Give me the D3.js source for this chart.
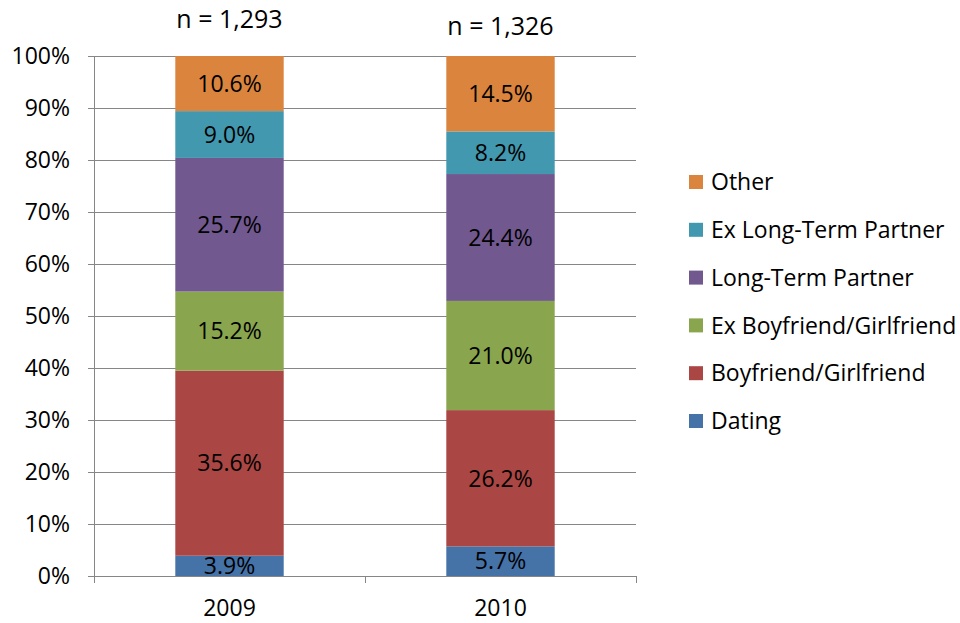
<!DOCTYPE html>
<html>
<head>
<meta charset="utf-8">
<script src="https://cdn.jsdelivr.net/npm/d3@7"></script>
<style>
  body { margin: 0; background: #fff; }
  svg text { font-family: "Open Sans", Lato, sans-serif; fill: #000; }
</style>
</head>
<body>
<div id="chart"></div>
<script>
// categories and series (percent of each year's total)
const years = ["2009", "2010"];
const sampleSizes = ["n = 1,293", "n = 1,326"];
const seriesNames = ["Dating", "Boyfriend/Girlfriend", "Ex Boyfriend/Girlfriend",
    "Long-Term Partner", "Ex Long-Term Partner", "Other"];
const dating = [3.9, 5.7];
const boyfriendGirlfriend = [35.6, 26.2];
const exBoyfriendGirlfriend = [15.2, 21.0];
const longTermPartner = [25.7, 24.4];
const exLongTermPartner = [9.0, 8.2];
const other = [10.6, 14.5];
const yTicks = [0, 10, 20, 30, 40, 50, 60, 70, 80, 90, 100];

const seriesValues = [dating, boyfriendGirlfriend, exBoyfriendGirlfriend,
    longTermPartner, exLongTermPartner, other];
const colors = ["#4572A7", "#AA4643", "#89A54E", "#71588F", "#4198AF", "#DB843D"];

// table for d3.stack
const table = years.map((y, i) => {
    let row = {year: y};
    seriesNames.forEach((s, j) => row[s] = seriesValues[j][i]);
    return row;
});

const margin = {top: 56, right: 324, bottom: 47, left: 94};
const width = 960 - margin.left - margin.right;
const height = 623 - margin.top - margin.bottom;
const fontSize = "23px";

const svg = d3.select("#chart").append("svg")
    .attr("width", 960)
    .attr("height", 623)
    .append("g")
    .attr("transform", "translate(" + margin.left + "," + margin.top + ")");

const x = d3.scaleBand()
    .domain(years)
    .range([0, width])
    .paddingInner(0.6)
    .paddingOuter(0.3);

const y = d3.scaleLinear()
    .domain([0, 100])
    .range([height, 0]);

const color = d3.scaleOrdinal().domain(seriesNames).range(colors);

// gridlines
svg.append("g")
    .selectAll("line")
    .data(yTicks)
    .enter()
    .append("line")
    .attr("x1", -6)
    .attr("x2", width)
    .attr("y1", d => Math.round(y(d)) + 0.5)
    .attr("y2", d => Math.round(y(d)) + 0.5)
    .attr("stroke", "#868686")
    .attr("stroke-width", 1);

// y axis labels
svg.append("g")
    .selectAll("text")
    .data(yTicks)
    .enter()
    .append("text")
    .attr("x", -24)
    .attr("y", d => y(d))
    .attr("dy", "0.36em")
    .attr("text-anchor", "end")
    .style("font-size", fontSize)
    .text(d => d + "%");

// y axis line
svg.append("line")
    .attr("x1", 0.5).attr("x2", 0.5)
    .attr("y1", 0).attr("y2", height)
    .attr("stroke", "#868686");

// stacked bars
const stacked = d3.stack().keys(seriesNames)(table);

const layers = svg.append("g")
    .selectAll("g")
    .data(stacked)
    .enter()
    .append("g")
    .attr("fill", d => color(d.key));

layers.selectAll("rect")
    .data(d => d)
    .enter()
    .append("rect")
    .attr("x", d => x(d.data.year))
    .attr("y", d => y(d[1]))
    .attr("width", x.bandwidth())
    .attr("height", d => y(d[0]) - y(d[1]));

// value labels
layers.selectAll("text")
    .data(d => d.map(v => Object.assign({}, v, {key: d.key})))
    .enter()
    .append("text")
    .attr("x", d => x(d.data.year) + x.bandwidth() / 2)
    .attr("y", d => (y(d[0]) + y(d[1])) / 2)
    .attr("dy", "0.36em")
    .attr("text-anchor", "middle")
    .style("font-size", fontSize)
    .text(d => d.data[d.key].toFixed(1) + "%");

// x axis
const xAxis = svg.append("g")
    .attr("transform", "translate(0," + height + ")");
xAxis.append("line")
    .attr("x1", 0).attr("x2", width)
    .attr("y1", 0.5).attr("y2", 0.5)
    .attr("stroke", "#868686");
xAxis.selectAll(".tick")
    .data([0, width / 2, width])
    .enter()
    .append("line")
    .attr("x1", d => Math.round(d) + 0.5)
    .attr("x2", d => Math.round(d) + 0.5)
    .attr("y1", 0).attr("y2", 7)
    .attr("stroke", "#868686");
xAxis.selectAll("text")
    .data(years)
    .enter()
    .append("text")
    .attr("x", d => x(d) + x.bandwidth() / 2)
    .attr("y", 40)
    .attr("text-anchor", "middle")
    .style("font-size", fontSize)
    .text(d => d);

// sample sizes above bars
svg.append("g")
    .selectAll("text")
    .data(sampleSizes)
    .enter()
    .append("text")
    .attr("x", (d, i) => x(years[i]) + x.bandwidth() / 2)
    .attr("y", (d, i) => i === 0 ? -28 : -21)
    .attr("text-anchor", "middle")
    .style("font-size", "25px")
    .text(d => d);

// legend (top entry = last series)
const legend = svg.append("g")
    .attr("transform", "translate(" + (689 - margin.left) + "," + (182 - margin.top) + ")");

const legendItems = legend.selectAll("g")
    .data(seriesNames.slice().reverse())
    .enter()
    .append("g")
    .attr("transform", (d, i) => "translate(0," + (i * 47.8) + ")");

legendItems.append("rect")
    .attr("x", 0)
    .attr("y", -7)
    .attr("width", 14)
    .attr("height", 14)
    .attr("fill", d => color(d));

legendItems.append("text")
    .attr("x", 22)
    .attr("y", 0)
    .attr("dy", "0.36em")
    .style("font-size", fontSize)
    .text(d => d);
</script>
</body>
</html>
